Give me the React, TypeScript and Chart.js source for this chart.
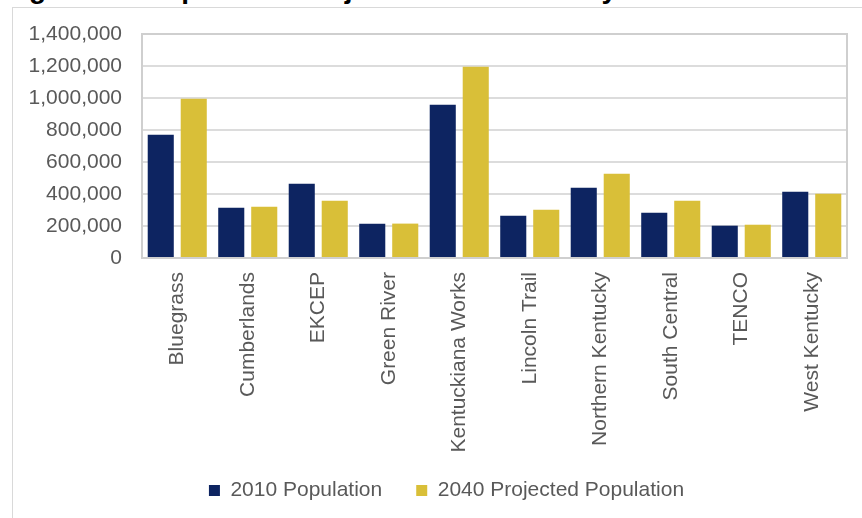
import React, { useEffect, useRef } from "react";
import { Chart, registerables } from "chart.js";

Chart.register(...registerables);

const categories = [
  "Bluegrass",
  "Cumberlands",
  "EKCEP",
  "Green River",
  "Kentuckiana Works",
  "Lincoln Trail",
  "Northern Kentucky",
  "South Central",
  "TENCO",
  "West Kentucky",
];
const pop2010 = [770000, 314000, 464000, 214000, 958000, 264000, 439000, 283000, 202000, 414000];
const pop2040 = [996000, 321000, 358000, 215000, 1196000, 302000, 527000, 358000, 208000, 402000];
const seriesNames = ["2010 Population", "2040 Projected Population"];
const seriesColors = ["#0d2461", "#d9bf38"];
const yMin = 0;
const yMax = 1400000;
const yStep = 200000;
const titleText = "Figure 10: Population Projections in Kentucky";

const FONT = "'Liberation Sans', Arial, sans-serif";
const CANVAS_W = 882;
const CANVAS_H = 511;
const AREA_LEFT = 142;
const AREA_TOP = 34;
const AREA_RIGHT = 847;
const AREA_BOTTOM = 258;
const PAD_LEFT = 12;
const LEGEND_CENTER = 446.5;

const plotBorder = {
  id: "plotBorder",
  beforeDatasetsDraw(chart: any) {
    const { ctx, chartArea } = chart;
    ctx.save();
    ctx.strokeStyle = "#cfcfcf";
    ctx.lineWidth = 2;
    ctx.strokeRect(chartArea.left, chartArea.top, chartArea.right - chartArea.left, chartArea.bottom - chartArea.top);
    ctx.restore();
  },
};

const layoutTweak = {
  id: "layoutTweak",
  afterLayout(chart: any) {
    const lg = chart.legend;
    if (lg) {
      const d = LEGEND_CENTER - (lg.left + lg.right) / 2;
      lg.left += d;
      lg.right += d;
    }
    const xs = chart.scales.x;
    if (xs) {
      // let the rotated category labels run past the legend's top edge, as in the reference
      xs.bottom += 20;
      xs.height += 20;
    }
  },
};

export default function App() {
  const ref = useRef<HTMLCanvasElement | null>(null);

  useEffect(() => {
    if (!ref.current) return;
    const chart = new Chart(ref.current, {
      type: "bar",
      data: {
        labels: categories,
        datasets: [
          {
            label: seriesNames[0],
            data: pop2010,
            backgroundColor: seriesColors[0],
            barPercentage: 0.79,
            categoryPercentage: 0.936,
          },
          {
            label: seriesNames[1],
            data: pop2040,
            backgroundColor: seriesColors[1],
            barPercentage: 0.79,
            categoryPercentage: 0.936,
          },
        ],
      },
      options: {
        responsive: false,
        animation: false,
        devicePixelRatio: 1,
        layout: {
          padding: { left: PAD_LEFT, top: AREA_TOP, right: CANVAS_W - AREA_RIGHT, bottom: 0 },
        },
        plugins: {
          tooltip: { enabled: false },
          title: { display: false },
          legend: {
            position: "bottom",
            labels: {
              boxWidth: 11,
              boxHeight: 11,
              padding: 34,
              color: "#595959",
              font: { family: FONT, size: 21 },
            },
          },
        },
        scales: {
          x: {
            grid: { display: false, drawTicks: false },
            border: { display: false },
            ticks: {
              color: "#595959",
              font: { family: FONT, size: 21 },
              maxRotation: 90,
              minRotation: 90,
              autoSkip: false,
              padding: 14,
            },
            afterFit(scale: any) {
              scale.height = 446 - AREA_BOTTOM;
            },
          },
          y: {
            min: yMin,
            max: yMax,
            grid: { color: "#dcdcdc", lineWidth: 2, drawTicks: false },
            border: { display: false },
            ticks: {
              stepSize: yStep,
              color: "#595959",
              font: { family: FONT, size: 21 },
              padding: 20,
              callback: (v: any) => Number(v).toLocaleString("en-US"),
            },
            afterFit(scale: any) {
              scale.width = AREA_LEFT - PAD_LEFT;
            },
          },
        },
      },
      plugins: [plotBorder, layoutTweak],
    });
    return () => chart.destroy();
  }, []);

  return (
    <div style={{ position: "fixed", left: 0, top: 0, width: 862, height: 518, overflow: "hidden", background: "#ffffff" }}>
      <div
        style={{
          position: "absolute",
          left: 4,
          top: -25,
          font: `bold 28px ${FONT}`,
          lineHeight: "28px",
          color: "#000000",
          whiteSpace: "nowrap",
        }}
      >
        {titleText}
      </div>
      <div
        style={{
          position: "absolute",
          left: 12,
          top: 7,
          width: 900,
          height: 600,
          border: "1px solid #d9d9d9",
          boxSizing: "border-box",
        }}
      />
      <canvas
        ref={ref}
        width={CANVAS_W}
        height={CANVAS_H}
        style={{ position: "absolute", left: 0, top: 0, width: CANVAS_W, height: CANVAS_H }}
      />
    </div>
  );
}
